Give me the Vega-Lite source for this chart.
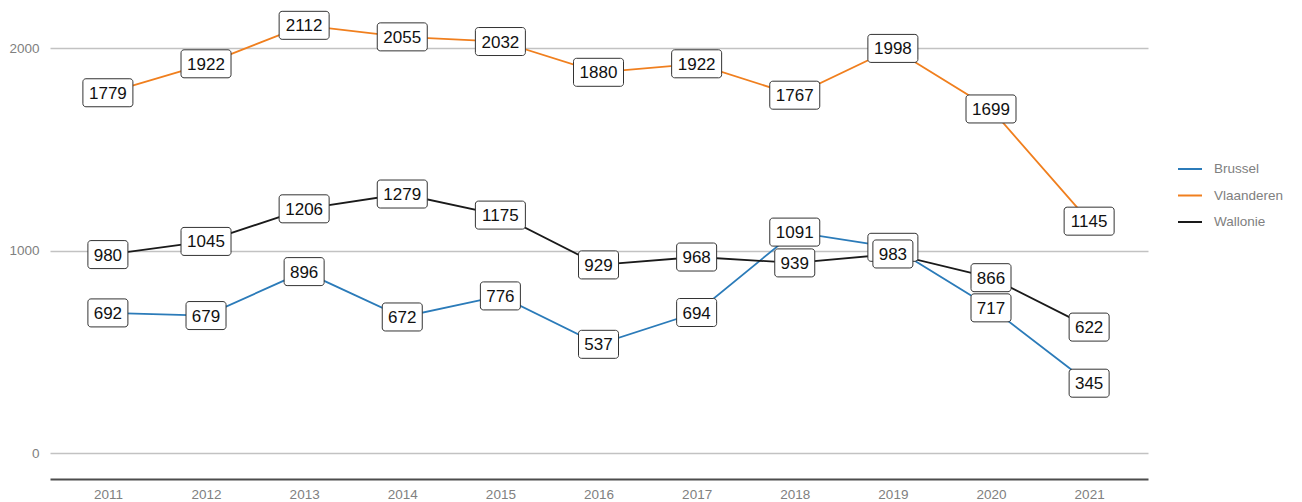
{
  "$schema": "https://vega.github.io/schema/vega-lite/v6.json",
  "width": 1098,
  "height": 479,
  "autosize": {"type": "none"},
  "padding": {"left": 50, "top": 0, "right": 154, "bottom": 23},
  "background": "white",
  "config": {
    "view": {"stroke": null},
    "font": "Liberation Sans"
  },
  "data": {"values": [
    {"year": 2011, "region": "Brussel", "value": 692},
    {"year": 2012, "region": "Brussel", "value": 679},
    {"year": 2013, "region": "Brussel", "value": 896},
    {"year": 2014, "region": "Brussel", "value": 672},
    {"year": 2015, "region": "Brussel", "value": 776},
    {"year": 2016, "region": "Brussel", "value": 537},
    {"year": 2017, "region": "Brussel", "value": 694},
    {"year": 2018, "region": "Brussel", "value": 1091},
    {"year": 2019, "region": "Brussel", "value": 1016},
    {"year": 2020, "region": "Brussel", "value": 717},
    {"year": 2021, "region": "Brussel", "value": 345},
    {"year": 2011, "region": "Vlaanderen", "value": 1779},
    {"year": 2012, "region": "Vlaanderen", "value": 1922},
    {"year": 2013, "region": "Vlaanderen", "value": 2112},
    {"year": 2014, "region": "Vlaanderen", "value": 2055},
    {"year": 2015, "region": "Vlaanderen", "value": 2032},
    {"year": 2016, "region": "Vlaanderen", "value": 1880},
    {"year": 2017, "region": "Vlaanderen", "value": 1922},
    {"year": 2018, "region": "Vlaanderen", "value": 1767},
    {"year": 2019, "region": "Vlaanderen", "value": 1998},
    {"year": 2020, "region": "Vlaanderen", "value": 1699},
    {"year": 2021, "region": "Vlaanderen", "value": 1145},
    {"year": 2011, "region": "Wallonie", "value": 980},
    {"year": 2012, "region": "Wallonie", "value": 1045},
    {"year": 2013, "region": "Wallonie", "value": 1206},
    {"year": 2014, "region": "Wallonie", "value": 1279},
    {"year": 2015, "region": "Wallonie", "value": 1175},
    {"year": 2016, "region": "Wallonie", "value": 929},
    {"year": 2017, "region": "Wallonie", "value": 968},
    {"year": 2018, "region": "Wallonie", "value": 939},
    {"year": 2019, "region": "Wallonie", "value": 983},
    {"year": 2020, "region": "Wallonie", "value": 866},
    {"year": 2021, "region": "Wallonie", "value": 622}
  ]},
  "encoding": {
    "x": {
      "field": "year", "type": "quantitative",
      "scale": {"domain": [2010.41, 2021.6], "nice": false, "zero": false},
      "axis": {"title": null, "values": [2011,2012,2013,2014,2015,2016,2017,2018,2019,2020,2021], "format": "d", "grid": false, "ticks": false, "domainColor": "#4d4d4d", "domainWidth": 2, "labelPadding": 8, "labelFont": "Liberation Sans", "labelFontSize": 13.5, "labelColor": "#808080"}
    },
    "y": {
      "field": "value", "type": "quantitative",
      "scale": {"domain": [-128, 2237], "nice": false, "zero": false},
      "axis": {"title": null, "values": [0, 1000, 2000], "format": "d", "grid": true, "gridColor": "#c2c2c2", "gridWidth": 1.6, "domain": false, "ticks": false, "labelPadding": 11, "labelFont": "Liberation Sans", "labelFontSize": 13.5, "labelColor": "#808080"}
    }
  },
  "layer": [
    {
      "mark": {"type": "line", "strokeWidth": 1.8},
      "encoding": {
        "color": {
          "field": "region", "type": "nominal",
          "scale": {"domain": ["Brussel", "Vlaanderen", "Wallonie"], "range": ["#2b7bb9", "#f07f1e", "#1a1a1a"]},
          "legend": {
            "title": null, "orient": "none", "legendX": 1127, "legendY": 156,
            "symbolType": "stroke", "symbolSize": 576, "symbolStrokeWidth": 2,
            "labelFont": "Liberation Sans", "labelFontSize": 13.5, "labelColor": "#808080",
            "rowPadding": 6.5, "labelOffset": 11
          }
        }
      }
    },
    {
      "transform": [{"filter": "datum.region == 'Brussel'"}],
      "mark": {"type": "rect", "fill": "white", "stroke": "#333333", "strokeWidth": 1, "cornerRadius": 3, "height": 28, "width": {"expr": "datum.value >= 1000 ? 50 : 40"}}
    },
    {
      "transform": [{"filter": "datum.region == 'Brussel'"}],
      "mark": {"type": "text", "fontSize": 17, "color": "#111111", "font": "Liberation Sans", "dy": 1},
      "encoding": {"text": {"field": "value", "type": "quantitative", "format": "d"}}
    },
    {
      "transform": [{"filter": "datum.region != 'Brussel'"}],
      "mark": {"type": "rect", "fill": "white", "stroke": "#333333", "strokeWidth": 1, "cornerRadius": 3, "height": 28, "width": {"expr": "datum.value >= 1000 ? 50 : 40"}}
    },
    {
      "transform": [{"filter": "datum.region != 'Brussel'"}],
      "mark": {"type": "text", "fontSize": 17, "color": "#111111", "font": "Liberation Sans", "dy": 1},
      "encoding": {"text": {"field": "value", "type": "quantitative", "format": "d"}}
    }
  ]
}
